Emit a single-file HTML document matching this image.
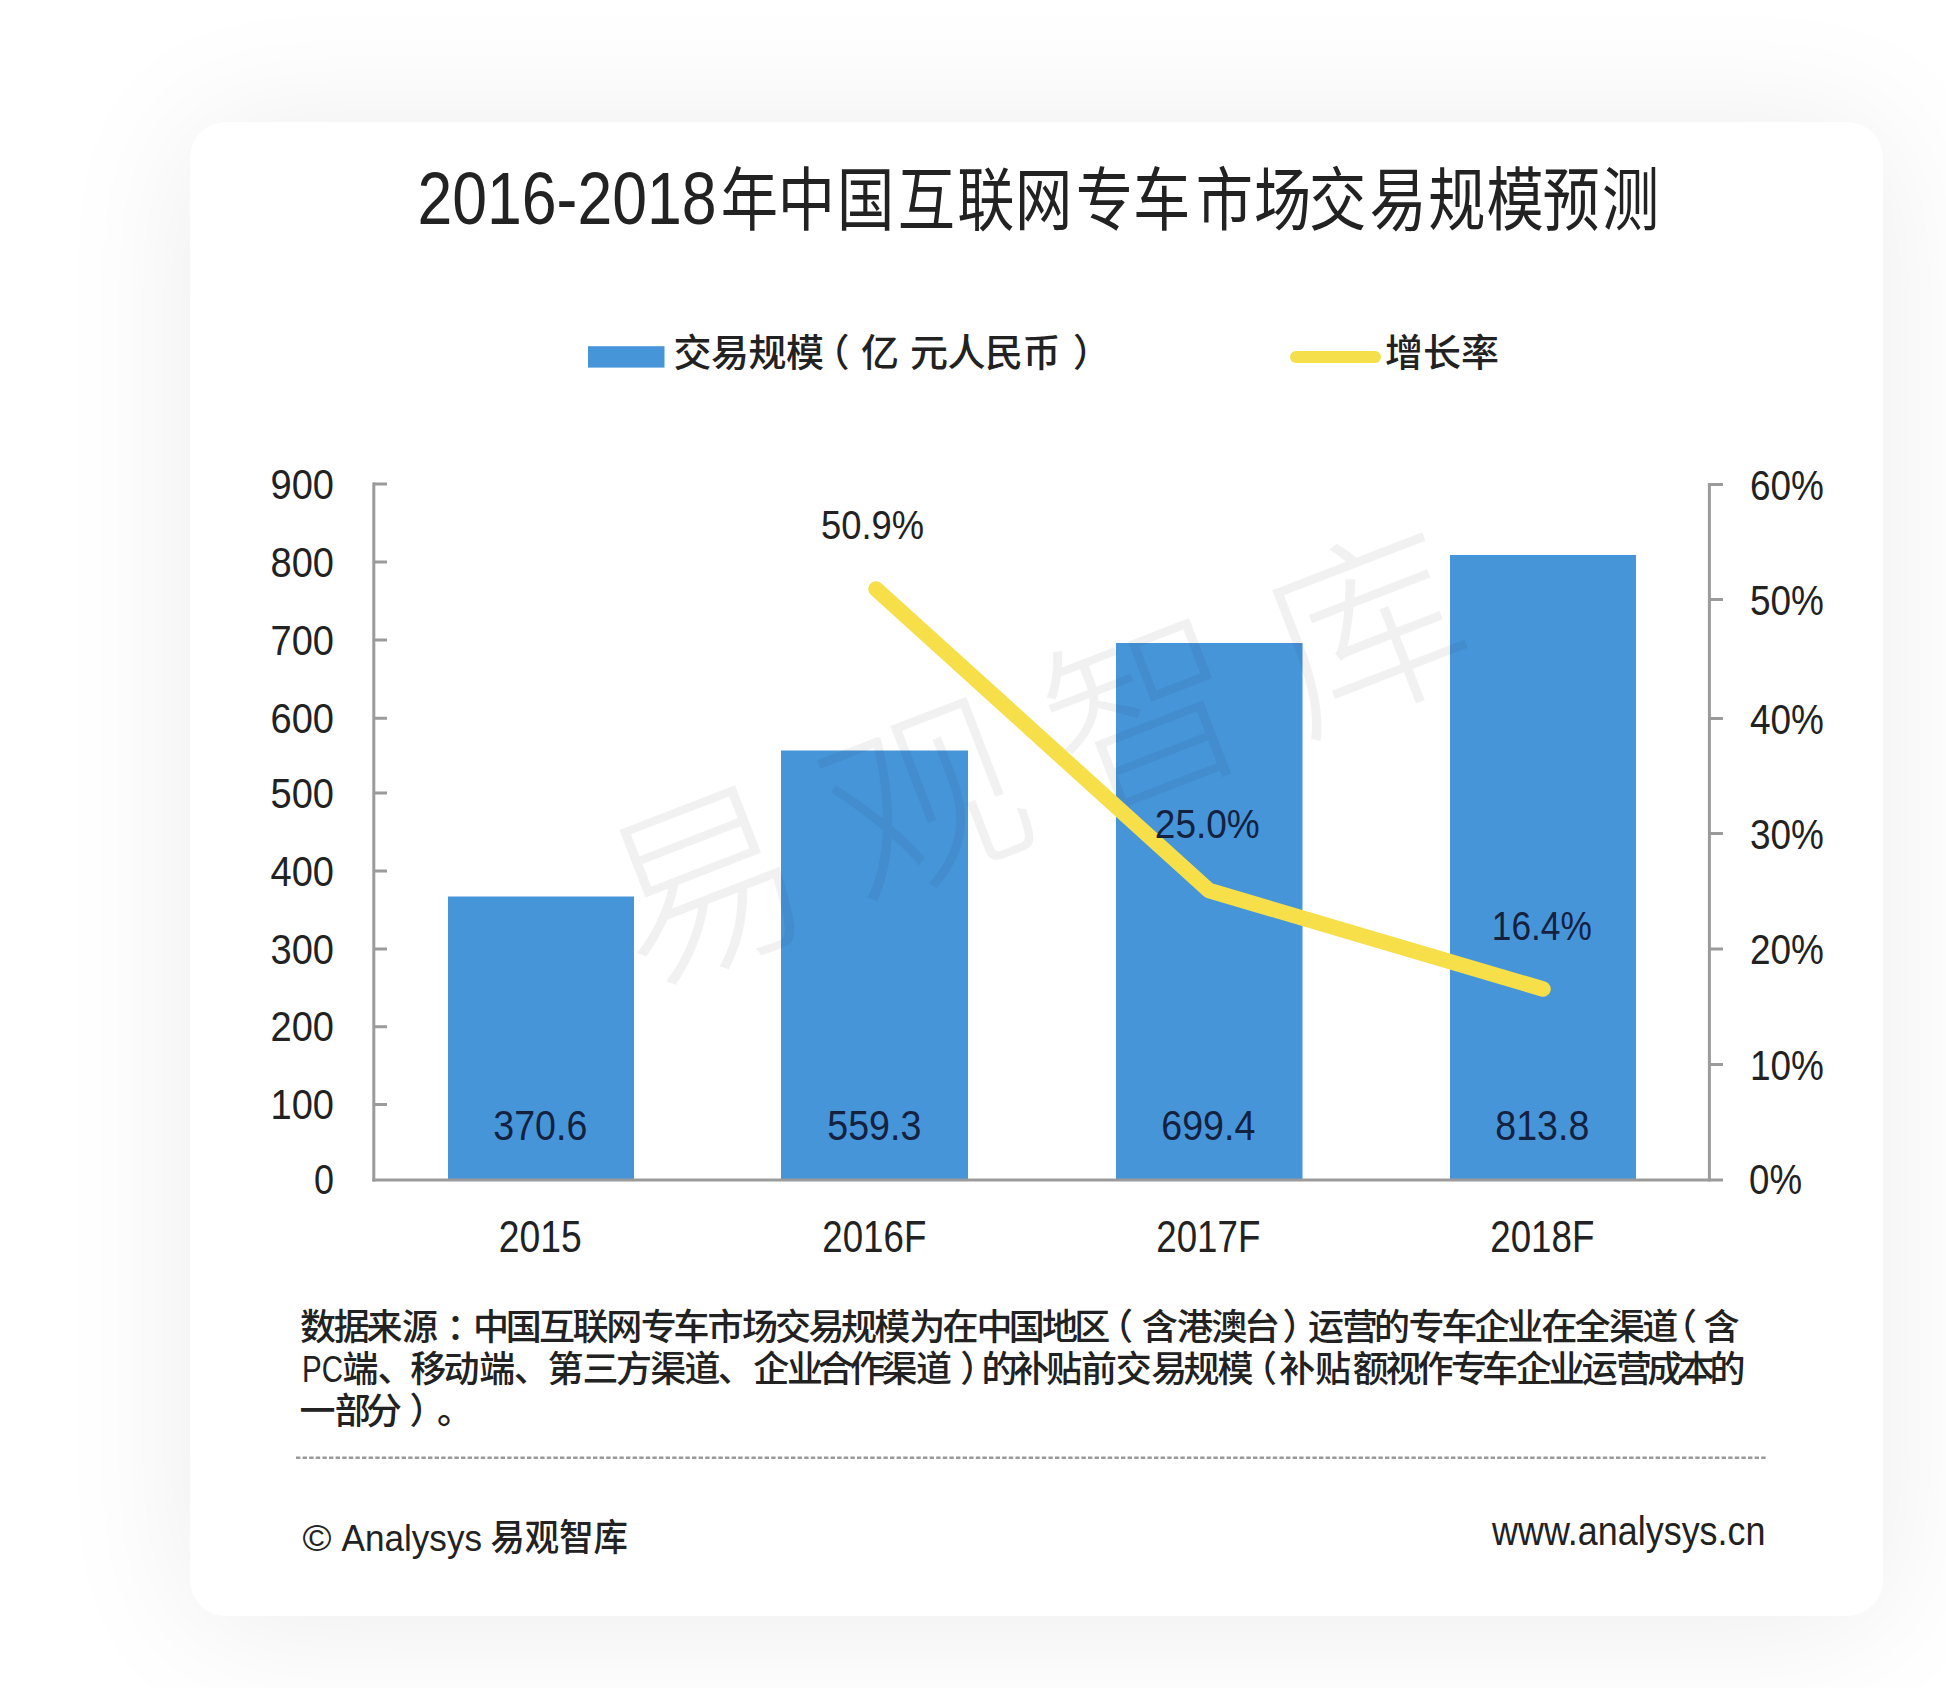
<!DOCTYPE html>
<html lang="zh-CN">
<head>
<meta charset="utf-8">
<title>2016-2018年中国互联网专车市场交易规模预测</title>
<style>
html,body{margin:0;padding:0;}
body{width:1946px;height:1688px;overflow:hidden;background:#fff;position:relative;
  font-family:"Liberation Sans","Noto Sans CJK SC",sans-serif;}
.card{position:absolute;left:190px;top:122px;width:1693px;height:1494px;border-radius:36px;background:#fff;
  box-shadow:0 6px 140px rgba(0,0,0,0.08);}
svg{position:absolute;left:0;top:0;}
svg text{font-family:"Liberation Sans","Noto Sans CJK SC",sans-serif;fill:#222;}
</style>
</head>
<body>
<div class="card"></div>
<svg width="1946" height="1688" viewBox="0 0 1946 1688">
  <!-- title -->
  <text x="417.5" y="224" font-size="75" textLength="299" lengthAdjust="spacingAndGlyphs">2016-2018</text><text x="868.4 937.2 1008.5 1081.5 1153.3 1223.0 1296.2 1365.2 1440.6 1510.8 1577.0 1649.9 1720.8 1790.9 1858.5 1930.0" y="225.3" font-size="69" transform="scale(0.83 1)">年中国互联网专车市场交易规模预测</text>

  <!-- legend -->
  <rect x="588" y="346.2" width="76.5" height="21.4" fill="#4795d9"/>
  <text x="673.5 711.0 748.5 786.0 811.5 861.0" y="366" font-size="38" font-weight="500">交易规模（亿</text>
  <text x="910.0 947.5 985.0 1022.5 1073.0" y="366" font-size="38" font-weight="500">元人民币）</text>
  <line x1="1296" y1="357" x2="1375" y2="357" stroke="#f5df4a" stroke-width="12" stroke-linecap="round"/>
  <text x="1385 1423 1461" y="366" font-size="38" font-weight="500">增长率</text>

  <!-- bars -->
  <g fill="#4795d9">
    <rect x="448" y="896.5" width="186" height="282.7"/>
    <rect x="781" y="750.5" width="187" height="428.7"/>
    <rect x="1116" y="643" width="186.5" height="536.2"/>
    <rect x="1450" y="555" width="186" height="624.2"/>
  </g>

  <!-- watermark -->
  <text x="0 236 472 708" y="0" font-size="196" font-weight="300" text-anchor="middle" dominant-baseline="central" style="fill:rgba(0,0,0,0.055)" transform="translate(707 889) rotate(-21.1)">易观智库</text>

  <!-- axes -->
  <g stroke="#9b9b9b" stroke-width="3" fill="none">
    <line x1="373.8" y1="482.6" x2="373.8" y2="1181.5"/>
    <line x1="372.3" y1="1180" x2="1723" y2="1180"/>
    <line x1="1709.4" y1="483" x2="1709.4" y2="1181.5"/>
    <path d="M373 484.1h14M373 561.9h14M373 640.1h14M373 718.3h14M373 793.1h14M373 870.9h14M373 949.1h14M373 1026.7h14M373 1104.5h14"/>
    <path d="M1709 484.5h14M1709 599.4h14M1709 718.5h14M1709 833.5h14M1709 949h14M1709 1064.6h14"/>
  </g>

  <!-- growth line -->
  <polyline points="876,589 1209,890.5 1543,989" fill="none" stroke="#f6df48" stroke-width="15.5" stroke-linecap="round" stroke-linejoin="round"/>

  <!-- left axis labels -->
  <g font-size="42.5" text-anchor="end">
    <text x="334" y="498.7" textLength="63.5" lengthAdjust="spacingAndGlyphs">900</text>
    <text x="334" y="576.5" textLength="63.5" lengthAdjust="spacingAndGlyphs">800</text>
    <text x="334" y="654.7" textLength="63.5" lengthAdjust="spacingAndGlyphs">700</text>
    <text x="334" y="732.9" textLength="63.5" lengthAdjust="spacingAndGlyphs">600</text>
    <text x="334" y="807.7" textLength="63.5" lengthAdjust="spacingAndGlyphs">500</text>
    <text x="334" y="885.5" textLength="63.5" lengthAdjust="spacingAndGlyphs">400</text>
    <text x="334" y="963.7" textLength="63.5" lengthAdjust="spacingAndGlyphs">300</text>
    <text x="334" y="1041.3" textLength="63.5" lengthAdjust="spacingAndGlyphs">200</text>
    <text x="334" y="1119.1" textLength="63.5" lengthAdjust="spacingAndGlyphs">100</text>
    <text x="334" y="1193.8" textLength="20" lengthAdjust="spacingAndGlyphs">0</text>
  </g>
  <!-- right axis labels -->
  <g font-size="42">
    <text x="1750" y="499.7" textLength="74" lengthAdjust="spacingAndGlyphs">60%</text>
    <text x="1750" y="614.6" textLength="74" lengthAdjust="spacingAndGlyphs">50%</text>
    <text x="1750" y="733.7" textLength="74" lengthAdjust="spacingAndGlyphs">40%</text>
    <text x="1750" y="848.7" textLength="74" lengthAdjust="spacingAndGlyphs">30%</text>
    <text x="1750" y="964.2" textLength="74" lengthAdjust="spacingAndGlyphs">20%</text>
    <text x="1750" y="1079.8" textLength="74" lengthAdjust="spacingAndGlyphs">10%</text>
    <text x="1749" y="1194.4" textLength="53" lengthAdjust="spacingAndGlyphs">0%</text>
  </g>

  <!-- category labels -->
  <g font-size="43.5" text-anchor="middle">
    <text x="540.3" y="1252" textLength="83" lengthAdjust="spacingAndGlyphs">2015</text>
    <text x="874.3" y="1252" textLength="104" lengthAdjust="spacingAndGlyphs">2016F</text>
    <text x="1208.3" y="1252" textLength="104" lengthAdjust="spacingAndGlyphs">2017F</text>
    <text x="1542.3" y="1252" textLength="104" lengthAdjust="spacingAndGlyphs">2018F</text>
  </g>

  <!-- bar value labels -->
  <g font-size="42" text-anchor="middle" style="fill:#14223f">
    <text x="540.3" y="1140.3" textLength="94" lengthAdjust="spacingAndGlyphs" style="fill:#14223f">370.6</text>
    <text x="874.3" y="1140.3" textLength="94" lengthAdjust="spacingAndGlyphs" style="fill:#14223f">559.3</text>
    <text x="1208.3" y="1140.3" textLength="94" lengthAdjust="spacingAndGlyphs" style="fill:#14223f">699.4</text>
    <text x="1542.3" y="1140.3" textLength="94" lengthAdjust="spacingAndGlyphs" style="fill:#14223f">813.8</text>
  </g>

  <!-- line value labels -->
  <g font-size="40" text-anchor="middle">
    <text x="872.5" y="539.3" textLength="103" lengthAdjust="spacingAndGlyphs">50.9%</text>
    <text x="1207.3" y="838" textLength="105" lengthAdjust="spacingAndGlyphs" style="fill:#14223f">25.0%</text>
    <text x="1541.8" y="939.6" textLength="100" lengthAdjust="spacingAndGlyphs" style="fill:#14223f">16.4%</text>
  </g>

  <!-- footnote -->
  <g font-size="36" font-weight="500">
    <text x="299.9 333.8 366.5 402.1 446.4 473.1 505.8 539.1 572.4 606.3 640.8 673.5 707.5 742.0 775.0 808.6 841.0 874.2 909.3 942.6 976.6 1008.7 1042.0 1074.2 1097.0 1141.8 1177.1 1211.2 1244.0 1282.6 1308.1 1341.9 1374.1 1408.5 1441.2 1473.9 1507.2 1541.6 1574.4 1609.0 1642.3 1661.1 1703.4" y="1340">数据来源：中国互联网专车市场交易规模为在中国地区（含港澳台）运营的专车企业在全渠道（含</text>
    <text x="302" y="1381.7" textLength="41" lengthAdjust="spacingAndGlyphs">PC</text>
    <text x="342.4 377.4 410.2 443.5 479.2 513.7 547.6 582.4 616.0 650.2 684.5 717.8 753.2 787.0 817.4 849.4 881.5 916.0 960.3 981.4 1013.3 1046.2 1081.0 1115.8 1151.3 1183.6 1217.5 1241.1 1279.3 1314.9 1352.8 1385.5 1417.5 1451.1 1482.0 1515.7 1548.8 1581.8 1616.1 1647.5 1678.5 1709.6" y="1381.7">端、移动端、第三方渠道、企业合作渠道）的补贴前交易规模（补贴额视作专车企业运营成本的</text>
    <text x="299.5 334.8 366.0 409.4 437.0" y="1424">一部分）。</text>
  </g>

  <!-- dotted separator -->
  <line x1="296" y1="1457.8" x2="1767" y2="1457.8" stroke="#9a9a9a" stroke-width="2.6" stroke-dasharray="4.4 2.2"/>

  <!-- footer -->
  <text x="302.5" y="1551.3" font-size="37" textLength="29" lengthAdjust="spacingAndGlyphs">©</text>
  <text x="341.5" y="1551.3" font-size="37" textLength="140.5" lengthAdjust="spacingAndGlyphs">Analysys</text>
  <text x="490.5" y="1551.3" font-size="37" font-weight="500" textLength="137.5" lengthAdjust="spacingAndGlyphs">易观智库</text>
  <text x="1492" y="1544.7" font-size="41" textLength="273.5" lengthAdjust="spacingAndGlyphs">www.analysys.cn</text>
</svg>
</body>
</html>
